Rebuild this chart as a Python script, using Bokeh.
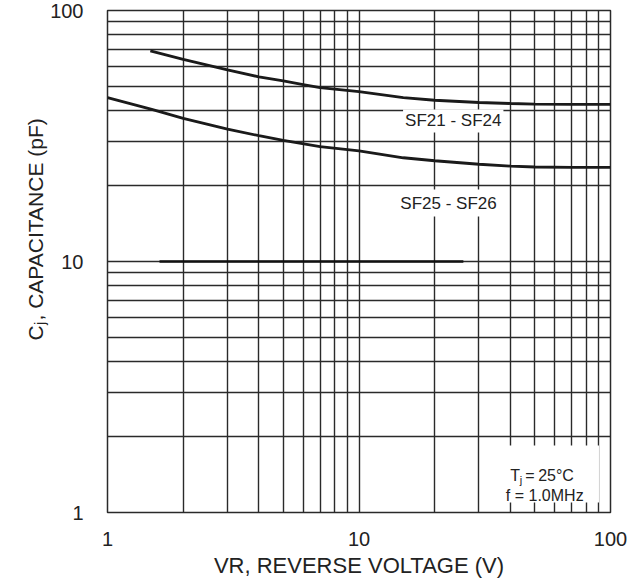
import math
from bokeh.plotting import figure
from bokeh.models import Range1d, FixedTicker, Label, BoxAnnotation
from bokeh.embed import file_html
from bokeh.resources import INLINE

# ---------------- data ----------------
v_sf21 = [1.48, 2, 3, 4, 5, 6, 7, 10, 15, 20, 30, 40, 50, 70, 100]
c_sf21 = [69.0, 63.9, 58.0, 54.4, 52.4, 50.7, 49.3, 47.5, 45.0, 43.9, 43.0, 42.6, 42.4, 42.3, 42.3]

v_sf25 = [1, 1.5, 2, 3, 4, 5, 7, 10, 15, 20, 30, 40, 50, 70, 100]
c_sf25 = [45.0, 40.4, 37.2, 33.7, 31.7, 30.4, 28.7, 27.6, 25.9, 25.2, 24.4, 24.0, 23.8, 23.7, 23.7]

# a heavier stroke drawn on the 10 pF grid line in the original sheet
bold_x = [1.61, 26.0]
bold_y = [10, 10]

major_ticks = [1, 10, 100]
tick_labels = ["1", "10", "100"]
minor_ticks = [2, 3, 4, 5, 6, 7, 8, 9, 20, 30, 40, 50, 60, 70, 80, 90]

series_label_1 = "SF21 - SF24"
series_label_2 = "SF25 - SF26"
x_title = "VR, REVERSE VOLTAGE (V)"
# ---------------------------------------------------------------

FONT = "Liberation Sans"
INK = "#222222"
GRID = "#2a2a2a"

p = figure(width=634, height=584, x_axis_type="log", y_axis_type="log",
           x_range=Range1d(1, 100), y_range=Range1d(1, 100),
           output_backend="svg", toolbar_location=None, tools="")
p.min_border_left = 107
p.min_border_right = 24
p.min_border_top = 10
p.min_border_bottom = 72
p.background_fill_color = "white"
p.border_fill_color = "white"
p.outline_line_color = GRID
p.outline_line_width = 1.5

xt = FixedTicker(ticks=major_ticks, minor_ticks=minor_ticks)
yt = FixedTicker(ticks=major_ticks, minor_ticks=minor_ticks)
p.xaxis.ticker = xt
p.yaxis.ticker = yt
p.xgrid.ticker = xt
p.ygrid.ticker = yt
for g in (p.xgrid, p.ygrid):
    g.grid_line_color = GRID
    g.grid_line_width = 1.4
    g.minor_grid_line_color = GRID
    g.minor_grid_line_width = 1.4

for ax, standoff in ((p.xaxis[0], 19), (p.yaxis[0], 24)):
    ax.axis_line_color = None
    ax.major_tick_line_color = None
    ax.minor_tick_line_color = None
    ax.major_tick_out = 0
    ax.major_tick_in = 0
    ax.minor_tick_out = 0
    ax.minor_tick_in = 0
    ax.major_label_standoff = standoff
    ax.major_label_text_font = FONT
    ax.major_label_text_font_size = "20px"
    ax.major_label_text_color = INK
    ax.major_label_overrides = {t: s for t, s in zip(major_ticks, tick_labels)}

xa = p.xaxis[0]
xa.axis_label = x_title
xa.axis_label_standoff = 4
xa.axis_label_text_font = FONT
xa.axis_label_text_font_size = "22px"
xa.axis_label_text_font_style = "normal"
xa.axis_label_text_color = INK

# curves
p.line(bold_x, bold_y, line_color="#111111", line_width=2.4)
p.line(v_sf21, c_sf21, line_color="#1a1a1a", line_width=2.8)
p.line(v_sf25, c_sf25, line_color="#1a1a1a", line_width=2.8)

# series labels with white background
p.add_layout(Label(x=23.7, y=36.3, text=series_label_1, text_align="center",
                   text_baseline="middle", text_font=FONT, text_font_size="17px",
                   text_color=INK, background_fill_color="white", padding=2))
p.add_layout(Label(x=22.7, y=17.1, text=series_label_2, text_align="center",
                   text_baseline="middle", text_font=FONT, text_font_size="17px",
                   text_color=INK, background_fill_color="white", padding=4))

# conditions box
p.add_layout(BoxAnnotation(left=37.1, right=90.0, bottom=1.096, top=1.848,
                           fill_color="white", fill_alpha=1.0, line_color=None))
bx = 39.9
def cond(text, dx, y, size="16px", dy=0):
    p.add_layout(Label(x=bx, y=y, x_offset=dx, y_offset=dy, text=text, text_align="left",
                       text_baseline="alphabetic", text_font=FONT, text_font_size=size,
                       text_color=INK))
cond("T", 0, 1.40)
cond("j", 9.6, 1.40, size="11px", dy=-4)
cond("=", 15, 1.40)
cond("25°C", 28, 1.40)
cond("f = 1.0MHz", -4.3, 1.166)

# y axis title  C_j, CAPACITANCE (pF): rotated labels placed in the side panels
ang = math.pi / 2
def ytitle(text, x, y, size, side):
    p.add_layout(Label(x=x, y=y, x_units="canvas", y_units="canvas", text=text,
                       angle=ang, text_align="left", text_baseline="alphabetic",
                       text_font=FONT, text_font_size=size, text_color=INK), side)

ytitle("C", 35, 340, "21px", "left")
ytitle(", CAPACITANCE (pF)", 35, 320, "21px", "left")
ytitle("j", 39.5, 324.5, "14px", "right")

open("out.html", "w").write(file_html(p, INLINE))
